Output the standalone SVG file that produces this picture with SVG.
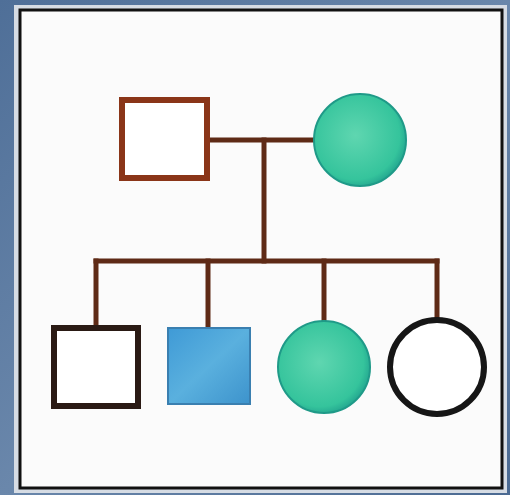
<svg xmlns="http://www.w3.org/2000/svg" width="510" height="495" viewBox="0 0 510 495">
  <defs>
    <radialGradient id="teal" cx="0.45" cy="0.45" r="0.6">
      <stop offset="0" stop-color="#5fd6b0"/>
      <stop offset="0.8" stop-color="#35c49c"/>
      <stop offset="1" stop-color="#1e9e8c"/>
    </radialGradient>
    <linearGradient id="blue" x1="0" y1="0" x2="1" y2="1">
      <stop offset="0" stop-color="#3f9ad6"/>
      <stop offset="0.5" stop-color="#5ab0de"/>
      <stop offset="1" stop-color="#3d93cc"/>
    </linearGradient>
    <linearGradient id="bg" x1="0" y1="0" x2="1" y2="1">
      <stop offset="0" stop-color="#4f6f98"/>
      <stop offset="0.5" stop-color="#6a87ab"/>
      <stop offset="1" stop-color="#4b6a92"/>
    </linearGradient>
  </defs>
  <style>
    .link { stroke: #5e2a16; stroke-width: 5; fill: none; stroke-linecap: square; }
  </style>
  <rect x="0" y="0" width="510" height="495" fill="url(#bg)"/>
  <rect x="14" y="5" width="493" height="488" fill="#d6dce4"/>
  <rect x="20" y="10" width="482" height="478" fill="#fbfbfb" stroke="#111111" stroke-width="3"/>

  <g id="connectors">
    <line class="link" x1="208" y1="140" x2="314" y2="140"/>
    <line class="link" x1="264" y1="140" x2="264" y2="261"/>
    <line class="link" x1="96" y1="261" x2="437" y2="261"/>
    <line class="link" x1="96" y1="261" x2="96" y2="326"/>
    <line class="link" x1="208" y1="261" x2="208" y2="327"/>
    <line class="link" x1="324" y1="261" x2="324" y2="321"/>
    <line class="link" x1="437" y1="261" x2="437" y2="318"/>
  </g>

  <g id="father">
    <rect x="122" y="100" width="85" height="78" fill="#ffffff" stroke="#8a3518" stroke-width="6"/>
  </g>
  <g id="mother">
    <circle cx="360" cy="140" r="46" fill="url(#teal)" stroke="#1f9a88" stroke-width="2"/>
  </g>
  <g id="son1">
    <rect x="54" y="328" width="84" height="78" fill="#ffffff" stroke="#2a1a14" stroke-width="6"/>
  </g>
  <g id="son2">
    <rect x="168" y="328" width="82" height="76" fill="url(#blue)" stroke="#3a7fb0" stroke-width="2"/>
  </g>
  <g id="daughter1">
    <circle cx="324" cy="367" r="46" fill="url(#teal)" stroke="#1f9a88" stroke-width="2"/>
  </g>
  <g id="daughter2">
    <circle cx="437" cy="367" r="47" fill="#ffffff" stroke="#161616" stroke-width="6"/>
  </g>
</svg>
